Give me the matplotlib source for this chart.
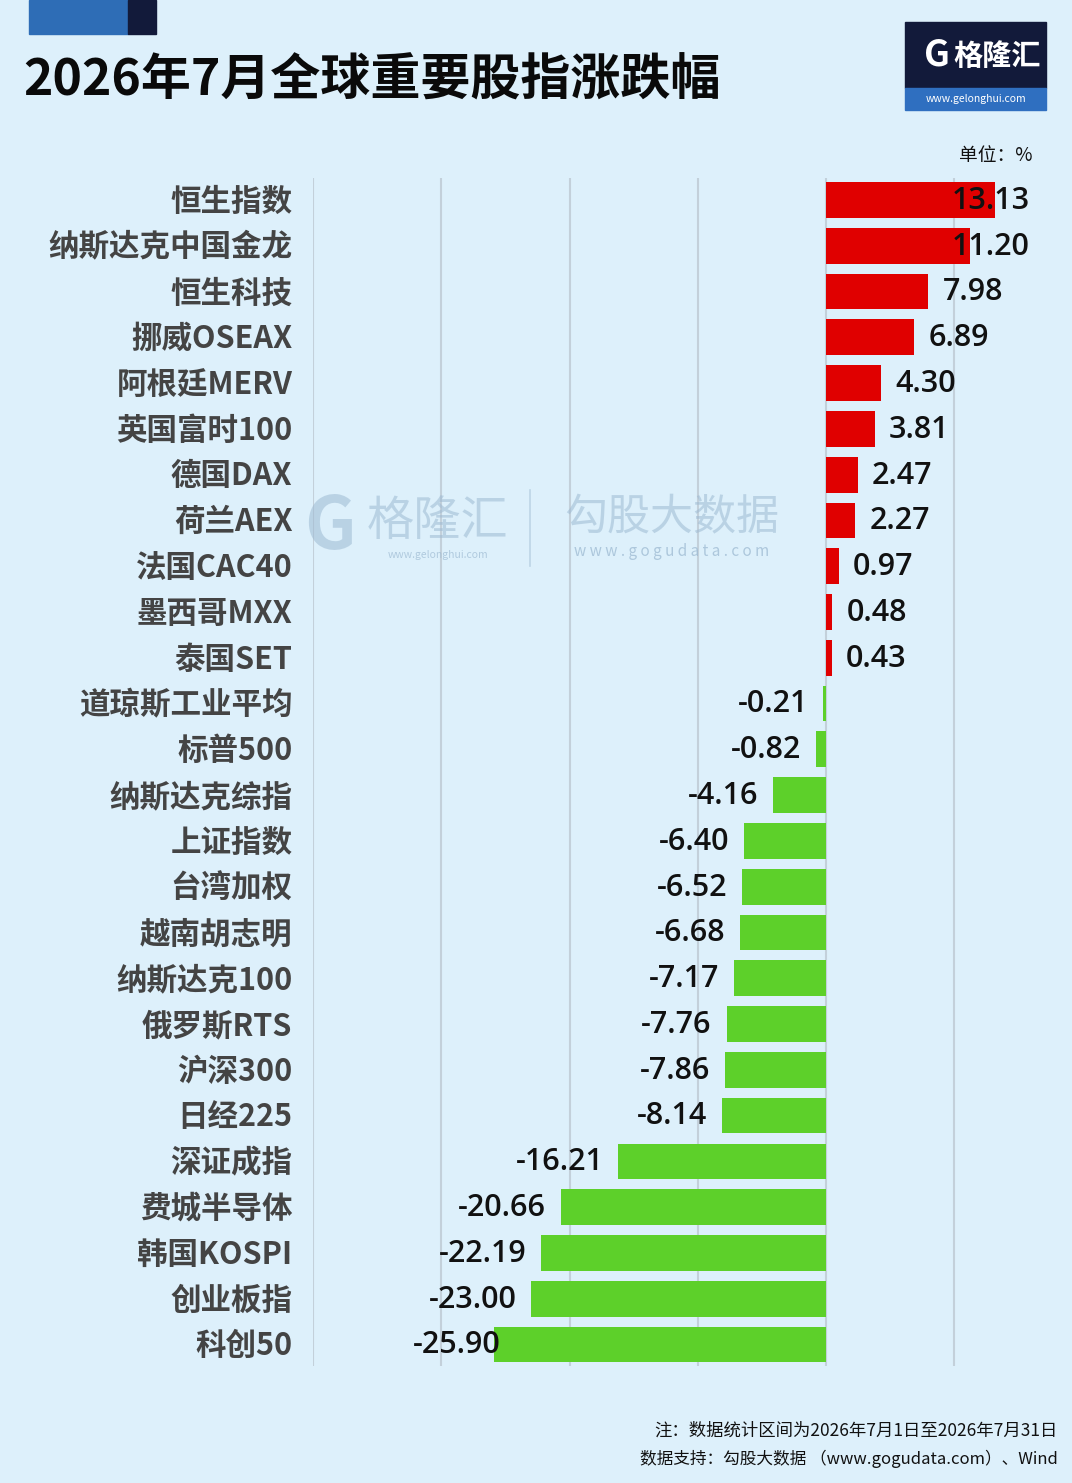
import matplotlib
matplotlib.use("Agg")
import matplotlib.pyplot as plt
from matplotlib.patches import Rectangle

plt.rcParams['font.family'] = ['Noto Sans CJK SC', 'DejaVu Sans']

categories = ["恒生指数", "纳斯达克中国金龙", "恒生科技", "挪威OSEAX", "阿根廷MERV", "英国富时100",
              "德国DAX", "荷兰AEX", "法国CAC40", "墨西哥MXX", "泰国SET", "道琼斯工业平均",
              "标普500", "纳斯达克综指", "上证指数", "台湾加权", "越南胡志明", "纳斯达克100",
              "俄罗斯RTS", "沪深300", "日经225", "深证成指", "费城半导体", "韩国KOSPI",
              "创业板指", "科创50"]
values = [13.13, 11.20, 7.98, 6.89, 4.30, 3.81, 2.47, 2.27, 0.97, 0.48, 0.43, -0.21,
          -0.82, -4.16, -6.40, -6.52, -6.68, -7.17, -7.76, -7.86, -8.14, -16.21, -20.66,
          -22.19, -23.00, -25.90]
grid_ticks = [-40, -30, -20, -10, 0, 10]

title = "2026年7月全球重要股指涨跌幅"
unit_text = "单位：%"
note1 = "注：数据统计区间为2026年7月1日至2026年7月31日"
note2 = "数据支持：勾股大数据 （www.gogudata.com）、Wind"

BG = "#DDF0FB"
RED = "#E00000"
GREEN = "#5DD02A"
W, H = 1072, 1483

fig = plt.figure(figsize=(W / 100, H / 100), dpi=100)
fig.patch.set_facecolor(BG)

def fx(px):
    return px / W

def fy(py):
    return 1 - py / H

ax = fig.add_axes([fx(313), fy(1366), fx(1072 - 313), (1366 - 178) / H])
ax.set_facecolor(BG)
n = len(categories)
ys = list(range(n))
colors = [RED if v > 0 else GREEN for v in values]
ax.barh(ys, values, height=0.78, color=colors, zorder=2)
ax.set_xlim(-40, 19.17)
ax.set_ylim(n - 1 + 0.47, -0.48)
for t in grid_ticks:
    ax.axvline(t, color="#C3D0DA", lw=1.5, zorder=1)
for s in ax.spines.values():
    s.set_visible(False)
ax.set_xticks([])
ax.set_yticks([])

vfont = ["Open Sans", "DejaVu Sans"]
for y, c, v in zip(ys, categories, values):
    ax.text(-41.6, y + 0.04, c, ha="right", va="center", fontsize=22, color="#444444",
            fontweight="bold", clip_on=False)
    if v > 0:
        ax.text(min(v, 8.72) + 1.1, y + 0.02, f"{v:.2f}", ha="left", va="center",
                fontsize=22, color="#111111", family=vfont, fontweight="semibold", zorder=3)
    else:
        ax.text(max(v, -24.2) - 1.15, y + 0.02, f"{v:.2f}", ha="right", va="center",
                fontsize=22, color="#111111", family=vfont, fontweight="semibold", zorder=3)

# top-left decorative blocks
fig.patches.append(Rectangle((fx(29), fy(34)), fx(128 - 29), 34 / H, transform=fig.transFigure,
                             color="#2E6DB6", zorder=0))
fig.patches.append(Rectangle((fx(128), fy(34)), fx(156 - 128), 34 / H, transform=fig.transFigure,
                             color="#121A3A", zorder=0))

fig.text(fx(23), fy(81), title, ha="left", va="center", fontsize=36, fontweight="bold", color="#0A0A0A")

# logo top right
fig.patches.append(Rectangle((fx(905), fy(88)), fx(1046 - 905), 66 / H, transform=fig.transFigure,
                             color="#121A3A", zorder=1))
fig.patches.append(Rectangle((fx(905), fy(110)), fx(1046 - 905), 22 / H, transform=fig.transFigure,
                             color="#2F6FC0", zorder=1))
fig.text(fx(937), fy(55), "G", ha="center", va="center", fontsize=26, fontweight="bold",
         color="white", zorder=2)
fig.text(fx(997), fy(56), "格隆汇", ha="center", va="center", fontsize=21, fontweight="bold",
         color="white", zorder=2)
fig.text(fx(976), fy(99), "www.gelonghui.com", ha="center", va="center", fontsize=7.5,
         color="white", zorder=2)

fig.text(fx(1033), fy(156), unit_text, ha="right", va="center", fontsize=13.5, color="#111111")

# watermark
wm = "#9DBAD2"
fig.text(fx(330), fy(528), "G", ha="center", va="center", fontsize=52, fontweight="bold",
         color=wm, alpha=0.55)
fig.text(fx(438), fy(522), "格隆汇", ha="center", va="center", fontsize=34, color=wm, alpha=0.55)
fig.text(fx(438), fy(555), "www.gelonghui.com", ha="center", va="center", fontsize=7.5,
         color=wm, alpha=0.7)
fig.add_artist(plt.Line2D([fx(530), fx(530)], [fy(490), fy(566)], color=wm, alpha=0.5, lw=1.2))
fig.text(fx(672), fy(518), "勾股大数据", ha="center", va="center", fontsize=31, color=wm, alpha=0.55)
fig.text(fx(672), fy(552), "w w w . g o g u d a t a . c o m", ha="center", va="center",
         fontsize=11, color=wm, alpha=0.75)

# footer
fig.text(fx(1058), fy(1431), note1, ha="right", va="center", fontsize=12.5, color="#111111")
fig.text(fx(1058), fy(1459), note2, ha="right", va="center", fontsize=12, color="#111111")

fig.savefig("out.png", dpi=100, facecolor=BG)
